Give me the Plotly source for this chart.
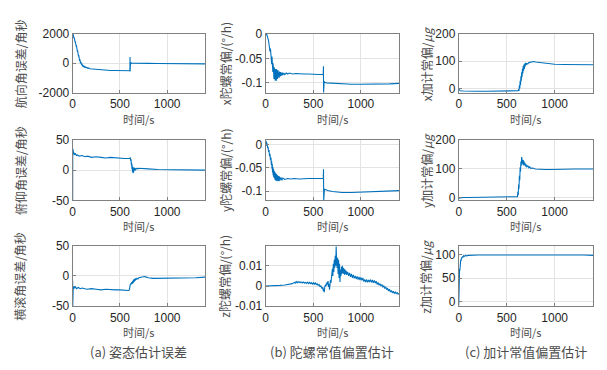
import plotly.graph_objects as go

# ---------------- data ----------------
# (a) attitude errors, arcsec
t_yaw = [0,2,4,6,8,10,12,14,16,18,20,22,24,26,28,30,32,34,36,38,40,42,44,46,48,50,52,54,56,58,60,62,64,66,68,70,72,74,76,78,80,83,86,89,92,95,98,101,104,107,110,115,120,125,130,140,150,160,170,180,200,220,250,280,300,350,400,450,500,550,590,600,604,606,607,608,609,610,612,615,620,630,650,700,800,900,1000,1100,1200,1300,1400]
yaw_err = [1950,1900,1980,1850,1900,1780,1820,1700,1760,1620,1680,1520,1600,1420,1500,1320,1420,1220,1300,1130,1230,1020,1120,900,1000,800,880,680,780,560,680,460,560,340,460,250,360,160,280,80,200,0,120,-80,40,-130,-20,-180,-80,-220,-120,-250,-180,-290,-230,-300,-280,-340,-320,-370,-380,-410,-430,-460,-465,-480,-490,-495,-500,-505,-505,-500,-510,-300,430,-550,200,-100,60,-40,20,0,5,0,-5,-10,-15,-20,-25,-35,-40]

t_pitch = [0,1,3,6,10,15,20,30,40,50,70,100,130,160,200,250,300,350,400,450,500,550,600,610,615,618,621,624,627,630,633,636,639,642,645,648,651,655,660,665,670,680,690,700,750,800,900,1000,1100,1200,1300,1400]
pitch_err = [-50,35,28,32,26,29,25,27,24,25,23,24,22,23,21,22,21,20,21,20,20,19,19,20,15,18,8,12,2,8,-3,5,-5,3,-4,4,-2,3,-1,3,1,3,2,3,2,2,1,1,0,0,0,0]

t_roll = [0,1,3,6,10,15,20,30,40,60,80,100,150,200,250,300,350,400,450,500,550,590,600,602,605,610,615,620,625,630,635,640,645,650,655,660,665,670,680,690,700,720,740,760,780,800,850,900,950,1000,1050,1100,1150,1200,1300,1400]
roll_err = [-8,-50,-22,-19,-21,-17,-20,-18,-21,-19,-21,-20,-22,-21,-22,-23,-22,-23,-23,-23,-24,-24,-23,-14,-15,-14,-13,-14,-10,-13,-8,-12,-6,-10,-5,-8,-4,-6,-4,-5,-3,-2,-1,-1,-2,-3,-4,-4,-4,-4,-4,-3,-4,-3,-3,-2]

# (b) gyro constant bias estimates, deg/h
t_gx = [0,5,10,15,20,25,30,35,40,45,50,55,60,63,66,69,72,75,78,81,84,87,90,93,96,99,102,105,108,111,114,117,120,124,128,132,136,140,145,150,155,160,165,170,175,180,190,200,215,230,250,280,320,360,400,450,500,550,600,604,606,608,610,613,616,620,640,700,800,900,1000,1100,1200,1300,1400]
gyro_x = [0,-0.002,0.0,-0.006,-0.006,-0.010,-0.014,-0.024,-0.020,-0.036,-0.030,-0.048,-0.040,-0.062,-0.046,-0.068,-0.052,-0.078,-0.060,-0.086,-0.064,-0.092,-0.068,-0.088,-0.070,-0.095,-0.072,-0.090,-0.074,-0.096,-0.072,-0.090,-0.075,-0.092,-0.074,-0.088,-0.076,-0.090,-0.077,-0.087,-0.078,-0.086,-0.079,-0.085,-0.079,-0.084,-0.080,-0.083,-0.080,-0.082,-0.080,-0.082,-0.081,-0.082,-0.082,-0.082,-0.083,-0.083,-0.083,-0.084,-0.066,-0.120,-0.095,-0.100,-0.097,-0.099,-0.100,-0.101,-0.102,-0.103,-0.103,-0.103,-0.102,-0.102,-0.101]

t_gy = [0,3,6,9,12,15,20,25,30,35,40,45,50,55,60,63,66,69,72,75,78,81,84,87,90,93,96,99,102,105,108,111,114,117,120,125,130,135,140,145,150,160,170,180,200,230,260,300,350,400,450,500,550,600,605,607,609,612,616,620,650,700,800,900,1000,1100,1200,1300,1400]
gyro_y = [0.003,0.008,-0.002,0.005,-0.003,0.002,-0.008,-0.005,-0.016,-0.012,-0.025,-0.020,-0.034,-0.028,-0.044,-0.036,-0.052,-0.042,-0.060,-0.048,-0.066,-0.052,-0.070,-0.056,-0.072,-0.058,-0.075,-0.060,-0.076,-0.062,-0.078,-0.064,-0.077,-0.066,-0.079,-0.066,-0.078,-0.068,-0.079,-0.069,-0.077,-0.071,-0.077,-0.072,-0.075,-0.073,-0.074,-0.073,-0.074,-0.073,-0.073,-0.073,-0.073,-0.073,-0.073,-0.053,-0.120,-0.095,-0.098,-0.096,-0.099,-0.101,-0.103,-0.103,-0.102,-0.102,-0.101,-0.100,-0.099]

t_gz = [0,50,100,150,200,250,280,300,310,320,330,340,350,360,370,380,390,400,410,420,430,440,450,460,470,480,490,500,510,520,530,540,550,560,570,580,590,600,605,610,615,620,625,630,635,640,645,650,655,660,665,670,675,680,685,690,695,700,705,710,715,720,725,730,735,740,745,750,755,760,765,770,775,780,785,790,795,800,805,810,815,820,825,830,835,840,845,850,860,870,880,890,900,910,920,930,940,950,960,970,980,990,1000,1010,1020,1030,1040,1050,1060,1070,1080,1090,1100,1110,1120,1130,1140,1150,1160,1170,1180,1190,1200,1210,1220,1230,1240,1250,1260,1270,1280,1290,1300,1310,1320,1330,1340,1350,1360,1370,1380,1390,1400]
gyro_z = [0.0,0.0,0.0001,0.0003,0.0005,0.0008,0.0012,0.0018,0.0014,0.0022,0.0016,0.0022,0.0017,0.0021,0.0016,0.0020,0.0015,0.0020,0.0014,0.0018,0.0013,0.0019,0.0012,0.0018,0.0012,0.0017,0.0010,0.0016,0.0009,0.0016,0.0007,0.0012,0.0003,0.0008,-0.0004,0.0002,-0.0012,-0.0006,-0.0025,-0.0012,-0.0030,-0.0005,0.0005,-0.0002,0.0012,0.0003,0.0020,0.0008,0.0025,-0.0005,0.0010,-0.0018,0.0005,0.0030,0.0015,0.0060,0.0035,0.0085,0.0050,0.0110,0.0070,0.0130,0.0090,0.0150,0.0100,0.0195,0.0120,0.0090,0.0140,0.0060,0.0130,0.0040,0.0110,0.0020,0.0080,0.0050,0.0095,0.0060,0.0100,0.0065,0.0090,0.0060,0.0085,0.0055,0.0080,0.0060,0.0075,0.0055,0.0070,0.0050,0.0065,0.0045,0.0060,0.0040,0.0055,0.0038,0.0050,0.0035,0.0048,0.0032,0.0045,0.0030,0.0043,0.0028,0.0040,0.0022,0.0033,0.0020,0.0032,0.0018,0.0030,0.0020,0.0032,0.0018,0.0030,0.0016,0.0028,0.0014,0.0024,0.0008,0.0018,0.0004,0.0012,0.0000,0.0008,-0.0006,0.0002,-0.0012,-0.0004,-0.0018,-0.0010,-0.0025,-0.0016,-0.0030,-0.0022,-0.0034,-0.0026,-0.0036,-0.0030,-0.0038,-0.0033,-0.0040,-0.0036]

# (c) accelerometer constant bias estimates, micro-g
t_ax = [0,5,15,50,100,200,300,400,500,600,620,625,628,632,636,640,644,648,652,656,660,664,668,672,676,680,684,688,692,696,700,710,720,730,740,760,780,800,850,900,950,1000,1100,1200,1300,1400]
acc_x = [-2,-5,-8,-9,-10,-10,-10,-9,-9,-9,-8,-2,-9,12,0,28,12,45,28,60,42,72,55,82,65,88,72,92,80,94,86,92,90,95,96,98,99,97,95,92,90,89,88,88,88,87]

t_ay = [0,20,50,100,200,300,400,500,600,612,616,620,624,628,632,636,640,644,648,652,656,660,664,668,672,676,680,685,690,695,700,710,720,730,740,750,770,800,850,900,950,1000,1100,1200,1300,1400]
acc_y = [-2,-1,0,0,1,1,2,2,3,3,20,8,45,30,75,60,105,90,125,110,140,120,138,115,130,112,125,112,120,108,115,106,110,103,106,101,102,99,97,97,97,98,98,99,99,99]

t_az = [0,1,3,5,7,9,11,13,15,17,19,21,23,25,28,31,35,40,45,50,60,70,80,100,150,200,300,400,500,600,700,800,900,1000,1100,1200,1300,1400]
acc_z = [-8,50,55,62,58,70,66,78,74,85,82,90,87,93,90,95,93,97,95,98,97,99,98,99,100,100,100,100,100,100,101,100,100,100,100,100,100,99]

series = [
    (t_yaw, yaw_err), (t_gx, gyro_x), (t_ax, acc_x),
    (t_pitch, pitch_err), (t_gy, gyro_y), (t_ay, acc_y),
    (t_roll, roll_err), (t_gz, gyro_z), (t_az, acc_z),
]

y_titles = [
    "航向角误差/角秒", "x陀螺常偏/(°/h)", "x加计常偏/<i>μg</i>",
    "俯仰角误差/角秒", "y陀螺常偏/(°/h)", "y加计常偏/<i>μg</i>",
    "横滚角误差/角秒", "z陀螺常偏/(°/h)", "z加计常偏/<i>μg</i>",
]
y_ranges = [
    [-2000, 2000], [-0.12, 0], [-15, 200],
    [-50, 50], [-0.12, 0.01], [-10, 200],
    [-50, 50], [-0.01, 0.02], [-10, 120],
]
y_tickvals = [
    [-2000, 0, 2000], [-0.1, -0.05, 0], [0, 100, 200],
    [-50, 0, 50], [-0.1, -0.05, 0], [0, 100, 200],
    [-50, 0, 50], [-0.01, 0, 0.01], [0, 50, 100],
]
y_ticktext = [
    ["-2000", "0", "2000"], ["-0.1", "-0.05", "0"], ["0", "100", "200"],
    ["-50", "0", "50"], ["-0.1", "-0.05", "0"], ["0", "100", "200"],
    ["-50", "0", "50"], ["-0.01", "0", "0.01"], ["0", "50", "100"],
]
x_range = [0, 1400]
x_tickvals = [0, 500, 1000]
x_ticktext = ["0", "500", "1000"]
x_title = "时间/s"
captions = ["(a) 姿态估计误差", "(b) 陀螺常值偏置估计", "(c) 加计常值偏置估计"]

# ---------------- layout ----------------
W, H = 607, 370
col_px = [(70, 203), (264, 398), (458, 593)]
row_px = [(28, 89), (138, 201), (248, 311)]
ytitle_x = [17, 223, 425]

LINE = "#0072BD"
TICKFONT = dict(family="Liberation Sans, Arial, sans-serif", size=12, color="#262626")
CJK = "Noto Sans CJK SC, sans-serif"
TXT = "#4d4d4d"

fig = go.Figure()
annotations = []
for i, (tx, ty) in enumerate(series):
    r, c = divmod(i, 3)
    k = "" if i == 0 else str(i + 1)
    fig.add_trace(go.Scatter(x=tx, y=ty, mode="lines",
                             line=dict(color=LINE, width=1.1),
                             xaxis="x" + k, yaxis="y" + k, showlegend=False))
    x0, x1 = col_px[c]
    y0, y1 = row_px[r]
    common = dict(showline=True, mirror=True, linecolor="#808080", linewidth=1,
                  showgrid=True, gridcolor="#e3e3e3", gridwidth=1, zeroline=False,
                  ticks="inside", ticklen=3, tickcolor="#808080", tickfont=TICKFONT)
    fig.layout["xaxis" + k] = dict(domain=[x0 / W, x1 / W], range=x_range,
                                   tickmode="array", tickvals=x_tickvals, ticktext=x_ticktext,
                                   anchor="y" + k, **common)
    fig.layout["yaxis" + k] = dict(domain=[1 - y1 / H, 1 - y0 / H], range=y_ranges[i],
                                   tickmode="array", tickvals=y_tickvals[i], ticktext=y_ticktext[i],
                                   anchor="x" + k, **common)
    # y title
    annotations.append(dict(text=y_titles[i], xref="paper", yref="paper",
                            x=ytitle_x[c] / W, y=1 - ((y0 + y1) / 2) / H,
                            xanchor="center", yanchor="middle", textangle=-90, showarrow=False,
                            font=dict(family=CJK, size=12, color=TXT)))
    # x title
    annotations.append(dict(text=x_title, xref="paper", yref="paper",
                            x=((x0 + x1) / 2) / W, y=1 - (y1 + 27) / H,
                            xanchor="center", yanchor="middle", showarrow=False,
                            font=dict(family=CJK, size=11, color=TXT)))

for c in range(3):
    x0, x1 = col_px[c]
    annotations.append(dict(text=captions[c], xref="paper", yref="paper",
                            x=((x0 + x1) / 2) / W, y=1 - 358 / H,
                            xanchor="center", yanchor="middle", showarrow=False,
                            font=dict(family=CJK, size=13, color=TXT)))

fig.update_layout(width=W, height=H, margin=dict(l=0, r=0, t=0, b=0),
                  paper_bgcolor="white", plot_bgcolor="white",
                  annotations=annotations)

fig.write_html("out.html", config={"displayModeBar": False},
               post_script="document.body.style.margin='0';")
